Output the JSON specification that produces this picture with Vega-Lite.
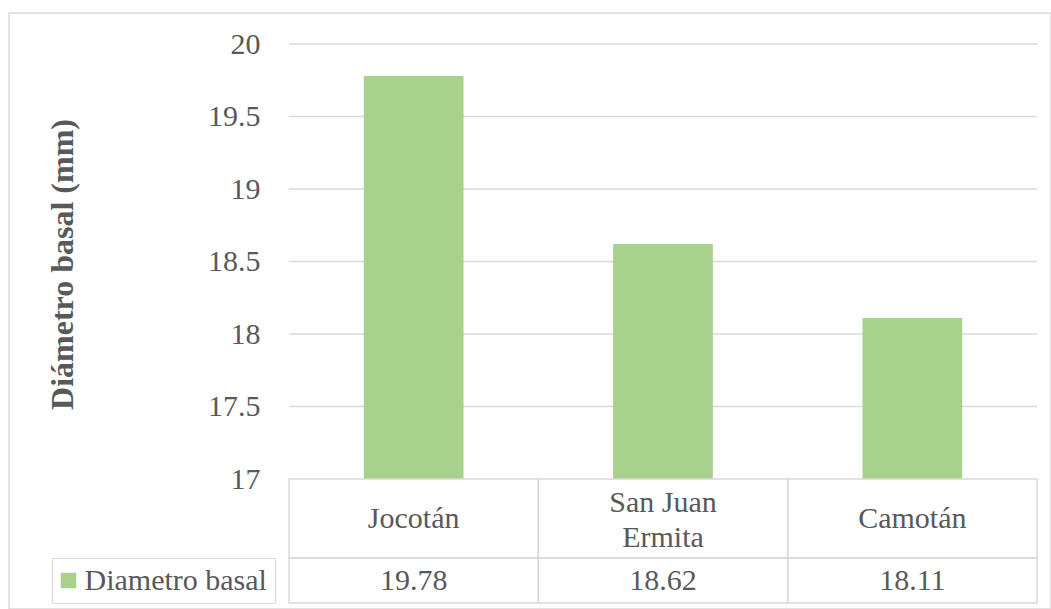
{
  "$schema": "https://vega.github.io/schema/vega-lite/v6.json",
  "width": 1042,
  "height": 596,
  "padding": {"left": 9, "top": 13, "right": 0, "bottom": 0},
  "autosize": {"type": "none"},
  "background": "white",
  "config": {
    "view": {"stroke": "#d9d9d9", "strokeWidth": 1.5},
    "font": "Liberation Serif"
  },
  "datasets": {
    "diametro": [
      {"lugar": "Jocotán", "valor": 19.78, "serie": "Diametro basal"},
      {"lugar": "San Juan Ermita", "valor": 18.62, "serie": "Diametro basal"},
      {"lugar": "Camotán", "valor": 18.11, "serie": "Diametro basal"}
    ],
    "rejilla": [
      {"v": 17.5}, {"v": 18}, {"v": 18.5}, {"v": 19}, {"v": 19.5}, {"v": 20}
    ]
  },
  "data": {"name": "diametro"},
  "layer": [
    {
      "data": {"name": "rejilla"},
      "mark": {"type": "rule", "stroke": "#d9d9d9", "strokeWidth": 1.5},
      "encoding": {
        "y": {"field": "v", "type": "quantitative", "title": "Diámetro basal (mm)"},
        "x": {"datum": "Jocotán", "type": "nominal", "bandPosition": 0, "axis": null},
        "x2": {"datum": "Camotán", "bandPosition": 1}
      }
    },
    {
      "mark": {"type": "bar", "width": {"band": 0.4}},
      "encoding": {
        "x": {
          "field": "lugar",
          "type": "nominal",
          "axis": null,
          "scale": {
            "type": "band",
            "domain": ["Jocotán", "San Juan Ermita", "Camotán"],
            "paddingInner": 0,
            "paddingOuter": 0.58957,
            "align": 0.952381,
            "round": false
          }
        },
        "y": {
          "field": "valor",
          "type": "quantitative",
          "title": "Diámetro basal (mm)",
          "scale": {"domain": [16.1035, 20.2138], "nice": false, "zero": false},
          "axis": {
            "orient": "left",
            "offset": -280,
            "values": [17, 17.5, 18, 18.5, 19, 19.5, 20],
            "format": "~g",
            "domain": false,
            "ticks": false,
            "tickSize": 0,
            "grid": false,
            "labelPadding": 29,
            "labelFont": "Liberation Serif",
            "labelFontSize": 30,
            "labelColor": "#595959",
            "titleFont": "Liberation Serif",
            "titleFontSize": 32,
            "titleFontWeight": "bold",
            "titleColor": "#595959",
            "titlePadding": 128,
            "titleY": 251
          }
        },
        "y2": {"datum": 17},
        "color": {
          "field": "serie",
          "type": "nominal",
          "scale": {"range": ["#a9d18e"]},
          "legend": {
            "orient": "none",
            "legendX": 43,
            "legendY": 545,
            "title": null,
            "symbolType": "square",
            "symbolSize": 240,
            "symbolStrokeWidth": 0,
            "symbolOffset": -6,
            "labelFont": "Liberation Serif",
            "labelFontSize": 30,
            "labelColor": "#595959",
            "labelOffset": 1,
            "labelLimit": 400,
            "labelExpr": "datum.label + '   \u2009'",
            "padding": 7.5,
            "strokeColor": "#d9d9d9",
            "fillColor": "white"
          }
        }
      }
    },
    {
      "mark": {"type": "rect", "fillOpacity": 0, "stroke": "#d9d9d9", "strokeWidth": 1.5},
      "encoding": {
        "x": {"field": "lugar", "type": "nominal", "axis": null},
        "y": {"datum": 17, "type": "quantitative", "title": "Diámetro basal (mm)"},
        "y2": {"datum": 16.4552}
      }
    },
    {
      "mark": {"type": "rect", "fillOpacity": 0, "stroke": "#d9d9d9", "strokeWidth": 1.5},
      "encoding": {
        "x": {"field": "lugar", "type": "nominal", "axis": null},
        "y": {"datum": 16.4552, "type": "quantitative", "title": "Diámetro basal (mm)"},
        "y2": {"datum": 16.1448}
      }
    },
    {
      "transform": [{"filter": "datum.lugar != 'San Juan Ermita'"}],
      "mark": {"type": "text", "font": "Liberation Serif", "fontSize": 30, "color": "#595959", "baseline": "middle"},
      "encoding": {
        "x": {"field": "lugar", "type": "nominal", "axis": null},
        "y": {"datum": 16.7276, "type": "quantitative", "title": "Diámetro basal (mm)"},
        "text": {"field": "lugar", "type": "nominal"}
      }
    },
    {
      "transform": [
        {"filter": "datum.lugar == 'San Juan Ermita'"},
        {"calculate": "['San Juan', 'Ermita']", "as": "etiqueta"}
      ],
      "mark": {"type": "text", "font": "Liberation Serif", "fontSize": 30, "color": "#595959", "lineHeight": 35, "baseline": "middle"},
      "encoding": {
        "x": {"field": "lugar", "type": "nominal", "axis": null},
        "y": {"datum": 16.8345, "type": "quantitative", "title": "Diámetro basal (mm)"},
        "text": {"field": "etiqueta", "type": "nominal"}
      }
    },
    {
      "mark": {"type": "text", "font": "Liberation Serif", "fontSize": 30, "color": "#595959", "baseline": "middle"},
      "encoding": {
        "x": {"field": "lugar", "type": "nominal", "axis": null},
        "y": {"datum": 16.3, "type": "quantitative", "title": "Diámetro basal (mm)"},
        "text": {"field": "valor", "type": "quantitative", "format": ".2f"}
      }
    }
  ]
}
